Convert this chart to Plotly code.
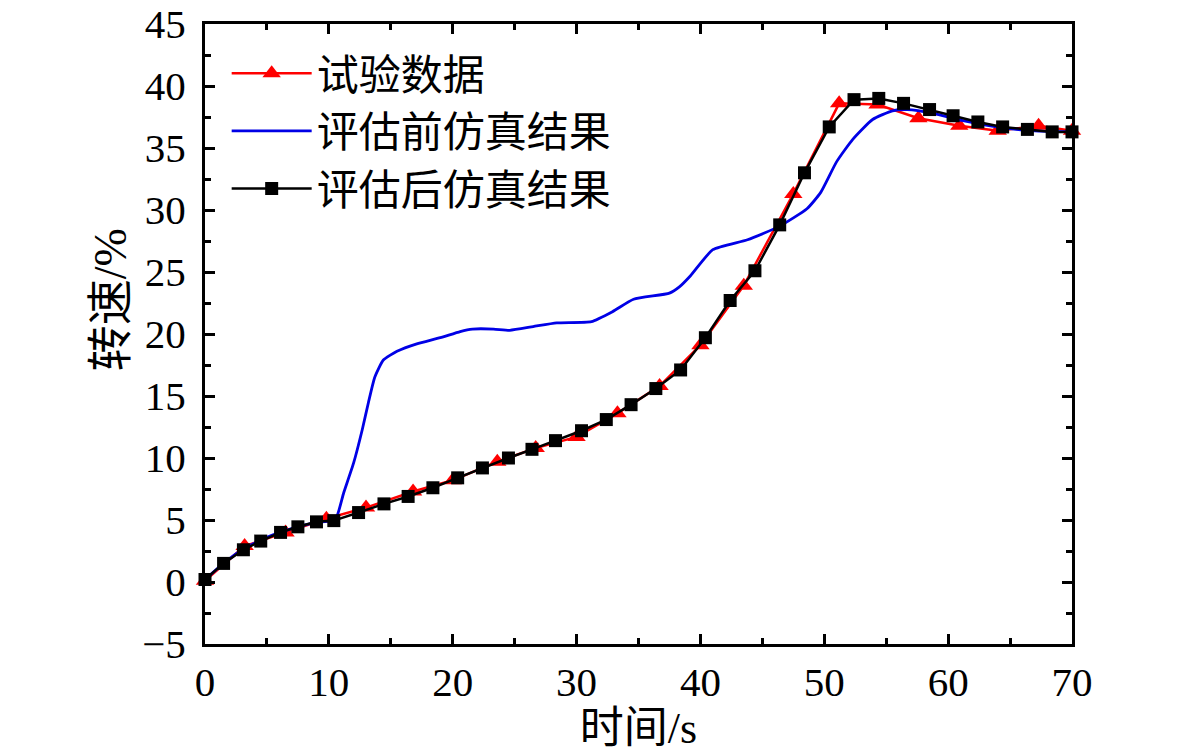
import plotly.graph_objects as go

# 试验数据 (test data, red triangles)
test_t = [0, 3.2, 6.5, 9.8, 13.0, 16.8, 20.0, 23.6, 26.7, 30.0, 33.3, 36.7,
          40.0, 43.5, 47.5, 51.2, 54.3, 57.6, 60.9, 64.0, 67.3, 70.0]
test_v = [0.1, 2.9, 4.0, 5.1, 6.0, 7.3, 8.2, 9.7, 10.8, 11.7, 13.6, 15.8,
          19.1, 23.9, 31.3, 38.6, 38.5, 37.4, 36.8, 36.4, 36.8, 36.4]

# 评估前仿真结果 (blue, before calibration)
pre_t = [0, 1.5, 3.0, 5.0, 7.0, 9.0, 10.5, 11.2, 12.0, 12.7, 13.2, 13.7, 14.4,
         15.5, 17.1, 19.0, 20.6, 21.6, 23.3, 24.6, 26.5, 28.4, 31.2, 32.9,
         34.6, 37.5, 38.3, 39.2, 41.0, 43.8, 46.4, 48.6, 49.7, 51.0, 52.3,
         53.9, 55.5, 56.7, 58.8, 61.2, 63.9, 66.6, 70.0]
pre_v = [0.2, 1.5, 2.6, 3.6, 4.3, 4.8, 5.0, 7.2, 9.6, 12.3, 14.5, 16.5, 17.9,
         18.6, 19.2, 19.7, 20.2, 20.4, 20.4, 20.3, 20.6, 20.9, 21.0, 21.8,
         22.8, 23.3, 23.8, 24.7, 26.8, 27.6, 28.7, 30.1, 31.4, 33.9, 35.7,
         37.3, 38.0, 38.1, 37.8, 37.2, 36.7, 36.4, 36.3]

# 评估后仿真结果 (black squares, after calibration)
post_t = [0, 1.5, 3.1, 4.5, 6.1, 7.5, 9.0, 10.4, 12.4, 14.45, 16.4, 18.4,
          20.4, 22.4, 24.5, 26.4, 28.3, 30.4, 32.4, 34.4, 36.4, 38.4, 40.4,
          42.4, 44.4, 46.4, 48.4, 50.4, 52.4, 54.4, 56.4, 58.5, 60.4, 62.4,
          64.4, 66.4, 68.4, 70.0]
post_v = [0.2, 1.5, 2.6, 3.3, 4.0, 4.45, 4.85, 4.95, 5.6, 6.3, 6.9, 7.6,
          8.4, 9.2, 10.0, 10.7, 11.4, 12.2, 13.1, 14.3, 15.6, 17.1, 19.7,
          22.7, 25.1, 28.8, 33.0, 36.7, 38.9, 39.0, 38.6, 38.1, 37.6, 37.1,
          36.7, 36.5, 36.3, 36.3]

FONT = "Liberation Serif, Times New Roman, Noto Sans CJK SC"

fig = go.Figure()

fig.add_trace(go.Scatter(
    x=test_t, y=test_v, name="试验数据", mode="lines+markers",
    line=dict(color="#ff0000", width=2.5),
    marker=dict(symbol="triangle-up", size=16, color="#ff0000"),
    cliponaxis=False,
))
fig.add_trace(go.Scatter(
    x=pre_t, y=pre_v, name="评估前仿真结果", mode="lines",
    line=dict(color="#0000e6", width=2.8, shape="spline", smoothing=0.5),
    cliponaxis=False,
))
fig.add_trace(go.Scatter(
    x=post_t, y=post_v, name="评估后仿真结果", mode="lines+markers",
    line=dict(color="black", width=2.5),
    marker=dict(symbol="square", size=13, color="black"),
    cliponaxis=False,
))

axis_common = dict(
    showline=True, linecolor="black", linewidth=3, mirror="ticks",
    ticks="inside", ticklen=10, tickwidth=3, tickcolor="black",
    showgrid=False, zeroline=False, automargin=False,
    ticklabeloverflow="allow",
    tickfont=dict(family=FONT, size=41, color="black"),
)

fig.update_xaxes(
    range=[0, 70], dtick=10, tick0=0,
    minor=dict(ticks="inside", dtick=5, ticklen=6, tickwidth=3, tickcolor="black"),
    title=dict(text="时间/s", font=dict(family=FONT, size=44, color="black"), standoff=0),
    **axis_common,
)
fig.update_yaxes(
    range=[-5, 45], dtick=5, tick0=0,
    minor=dict(ticks="inside", dtick=2.5, ticklen=6, tickwidth=3, tickcolor="black"),
    ticklabelstandoff=8,
    **axis_common,
)

# y-axis title placed a little above the axis centre, as in the reference
fig.add_annotation(
    text="转速/%", textangle=-90, showarrow=False,
    xref="paper", yref="paper", x=-0.108, y=0.555,
    xanchor="center", yanchor="middle",
    font=dict(family=FONT, size=46, color="black"),
)

fig.update_layout(
    width=1181, height=753,
    margin=dict(l=205, r=109, t=24, b=109),
    plot_bgcolor="white", paper_bgcolor="white",
    showlegend=True,
    legend=dict(
        x=0.025, y=0.975, xanchor="left", yanchor="top",
        bgcolor="rgba(0,0,0,0)",
        font=dict(family=FONT, size=42, color="black"),
        itemwidth=80, tracegroupgap=0,
    ),
)

# drop the browser's default 8px body margin so the figure fills the window
fig.write_html(
    "out.html",
    config={"displayModeBar": False},
    post_script="document.body.style.margin='0px';",
)
